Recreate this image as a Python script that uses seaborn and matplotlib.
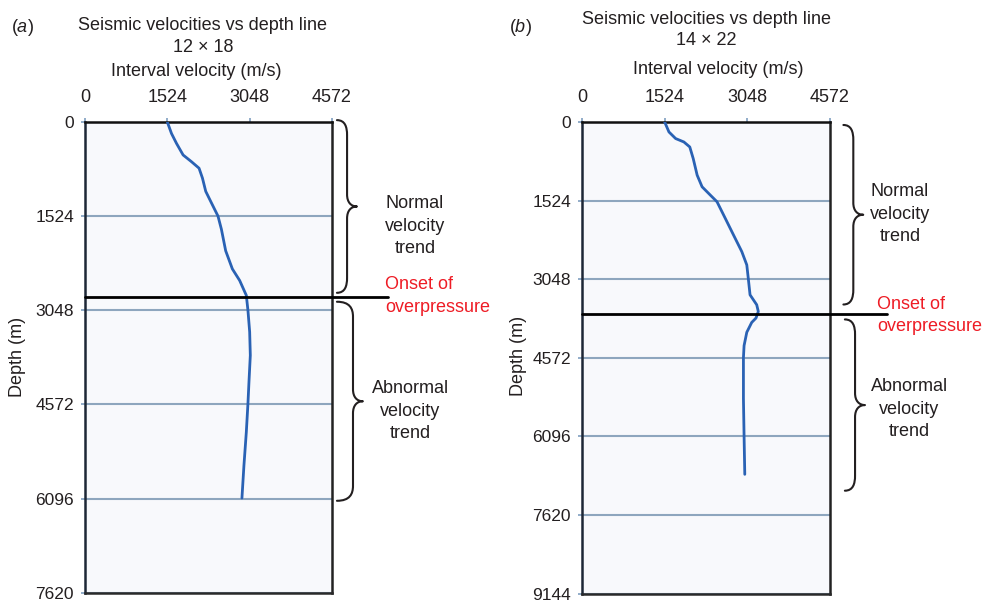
import numpy as np
import pandas as pd
import matplotlib
matplotlib.use("Agg")
import matplotlib.pyplot as plt
import seaborn as sns
from matplotlib.path import Path
from matplotlib.patches import PathPatch

# ---------------- data ----------------
vel_ticks = [0, 1524, 3048, 4572]
left_depth_ticks = [0, 1524, 3048, 4572, 6096, 7620]
right_depth_ticks = [0, 1524, 3048, 4572, 6096, 7620, 9144]

left_depth = [0, 186, 347, 534, 642, 748, 908, 1123, 1309, 1524, 1737, 2085,
              2379, 2566, 2807, 3048, 3398, 3777, 4209, 4560, 5020, 5560, 6088]
left_vel = [1524, 1601, 1694, 1816, 1970, 2111, 2174, 2235, 2340, 2462, 2525, 2604,
            2728, 2863, 2986, 3016, 3048, 3060, 3035, 3016, 2986, 2942, 2905]

right_depth = [0, 193, 321, 387, 484, 708, 1031, 1257, 1418, 1547, 1868, 2191,
               2514, 2772, 3048, 3352, 3545, 3675, 3802, 3887, 4078, 4336, 4572,
               5360, 6096, 6833]
right_vel = [1524, 1603, 1726, 1878, 1987, 2050, 2123, 2214, 2366, 2489, 2641, 2793,
             2946, 3038, 3067, 3098, 3221, 3250, 3208, 3129, 3038, 2988, 2976,
             2976, 2988, 3001]

left_onset = 2825
right_onset = 3730

panel_letters = ["a", "b"]
panel_titles = ["Seismic velocities vs depth line\n12 \u00d7 18",
                "Seismic velocities vs depth line\n14 \u00d7 22"]
xlabel = "Interval velocity (m/s)"
ylabel = "Depth (m)"
normal_txt = "Normal\nvelocity\ntrend"
abnormal_txt = "Abnormal\nvelocity\ntrend"
onset_txt = "Onset of\noverpressure"

# ---------------- style ----------------
sns.set_theme(style="white")
plt.rcParams["font.family"] = ["Liberation Sans", "DejaVu Sans"]
plt.rcParams["mathtext.fontset"] = "custom"
plt.rcParams["mathtext.rm"] = "Liberation Sans"
plt.rcParams["mathtext.it"] = "Liberation Sans:italic"

TXT = "#231f20"
RED = "#ee1c25"
CURVE = "#2a62b4"
GRID = "#8ea6be"
TICKC = "#7f9ec0"
FS = 13
LS = 1.42

W, H = 989, 603
fig = plt.figure(figsize=(W / 100, H / 100), dpi=100)
fig.patch.set_facecolor("white")

ax_l = fig.add_axes([85 / W, 1 - 592.7 / H, 247 / W, 470.7 / H])
ax_r = fig.add_axes([582 / W, 1 - 593.5 / H, 248 / W, 471.5 / H])

panels = [
    dict(ax=ax_l, depth=left_depth, vel=left_vel, yt=left_depth_ticks, onset=left_onset,
         onset_end=1.227, xl=(0.449, 1.108), yl=(-0.275, 0.501),
         title_xy=(203 / W, 1 - 36.5 / H), letter_xy=(22 / W, 1 - 27 / H),
         normal_brace=(1.020, 1.061, 1.101, -30, 2765),
         abn_brace=(1.020, 1.085, 1.125, 2910, 6132),
         normal_txt=(1.336, 1685), onset_txt=(1.215, 2818), abn_txt=(1.316, 4681)),
    dict(ax=ax_r, depth=right_depth, vel=right_vel, yt=right_depth_ticks, onset=right_onset,
         onset_end=1.23, xl=(0.548, 1.112), yl=(-0.258, 0.503),
         title_xy=(706 / W, 1 - 30 / H), letter_xy=(520 / W, 1 - 27 / H),
         normal_brace=(1.054, 1.094, 1.134, 58, 3539),
         abn_brace=(1.060, 1.101, 1.141, 3829, 7150),
         normal_txt=(1.282, 1789), onset_txt=(1.190, 3752), abn_txt=(1.319, 5570)),
]

ov = fig.add_axes([0, 0, 1, 1], zorder=10)
ov.set_xlim(0, W)
ov.set_ylim(0, H)
ov.axis("off")
ov.patch.set_alpha(0)


def draw_brace(ax, xe, xm, xt, d0, d1, re=15, rt=12):
    pe = ax.transAxes.transform((xe, 0))[0]
    pm = ax.transAxes.transform((xm, 0))[0]
    pt = ax.transAxes.transform((xt, 0))[0]
    yt = ax.transData.transform((0, d0))[1]
    yb = ax.transData.transform((0, d1))[1]
    ym = (yt + yb) / 2
    dx = pm - pe
    tx = pt - pm
    verts = [(pe, yt), (pe + 0.8 * dx, yt), (pm, yt - 0.45 * re), (pm, yt - re),
             (pm, ym + rt),
             (pm, ym + 0.35 * rt), (pm + 0.4 * tx, ym), (pt, ym),
             (pm + 0.4 * tx, ym), (pm, ym - 0.35 * rt), (pm, ym - rt),
             (pm, yb + re),
             (pm, yb + 0.45 * re), (pe + 0.8 * dx, yb), (pe, yb)]
    codes = [Path.MOVETO, Path.CURVE4, Path.CURVE4, Path.CURVE4,
             Path.LINETO,
             Path.CURVE4, Path.CURVE4, Path.CURVE4,
             Path.CURVE4, Path.CURVE4, Path.CURVE4,
             Path.LINETO,
             Path.CURVE4, Path.CURVE4, Path.CURVE4]
    ov.add_patch(PathPatch(Path(verts, codes), fill=False, edgecolor=TXT, lw=1.5,
                           capstyle="round", joinstyle="round"))


for i, p in enumerate(panels):
    ax = p["ax"]
    df = pd.DataFrame({"velocity": p["vel"], "depth": p["depth"]})
    ax.set_facecolor("#f8f9fc")
    sns.lineplot(data=df, x="velocity", y="depth", sort=False, estimator=None,
                 ax=ax, color=CURVE, lw=2.0, zorder=4)
    ax.lines[-1].set_solid_joinstyle("round")
    ax.set_xlim(0, 4572)
    ax.set_ylim(p["yt"][-1], 0)
    ax.set_xticks(vel_ticks)
    ax.set_yticks(p["yt"])
    ax.xaxis.tick_top()
    ax.xaxis.set_label_position("top")
    ax.tick_params(axis="x", which="both", top=True, bottom=False, direction="out",
                   length=3, width=1.2, color=TICKC, pad=8.8, labelsize=FS, labelcolor=TXT)
    ax.tick_params(axis="y", which="both", left=True, direction="out",
                   length=3, width=1.2, color=TICKC, pad=5, labelsize=12.5, labelcolor=TXT)
    ax.yaxis.grid(True, color=GRID, lw=1.5, zorder=1)
    ax.xaxis.grid(False)
    for s in ["top", "left", "right", "bottom"]:
        ax.spines[s].set_visible(True)
        ax.spines[s].set_linewidth(1.8)
    ax.spines["top"].set_color("#111111")
    ax.spines["left"].set_color("#1d2736")
    ax.spines["right"].set_color("#222222")
    ax.spines["bottom"].set_color("#2a2a2a")

    ax.set_xlabel(xlabel, fontsize=FS, color=TXT)
    ax.xaxis.set_label_coords(*p["xl"])
    ax.xaxis.label.set_va("center")
    ax.set_ylabel(ylabel, fontsize=FS, color=TXT)
    ax.yaxis.set_label_coords(*p["yl"])
    ax.yaxis.label.set_va("center")

    # onset line
    ax.axhline(p["onset"], xmin=0, xmax=p["onset_end"], color="black", lw=2.0,
               clip_on=False, zorder=5)

    # titles
    fig.text(*p["title_xy"], panel_titles[i], ha="center", va="center", fontsize=FS,
             color=TXT, linespacing=1.38)
    fig.text(*p["letter_xy"], "($\\mathit{%s}$)" % panel_letters[i], ha="center",
             va="center", fontsize=FS, color=TXT)

    # annotations
    tr = ax.get_yaxis_transform()
    ax.text(*p["normal_txt"], normal_txt, transform=tr, ha="center", va="center",
            fontsize=FS, color=TXT, linespacing=LS, clip_on=False)
    ax.text(*p["abn_txt"], abnormal_txt, transform=tr, ha="center", va="center",
            fontsize=FS, color=TXT, linespacing=LS, clip_on=False)
    ax.text(*p["onset_txt"], onset_txt, transform=tr, ha="left", va="center",
            fontsize=FS, color=RED, linespacing=LS, clip_on=False)

    draw_brace(ax, *p["normal_brace"])
    draw_brace(ax, *p["abn_brace"])

fig.savefig("out.png", dpi=100)
